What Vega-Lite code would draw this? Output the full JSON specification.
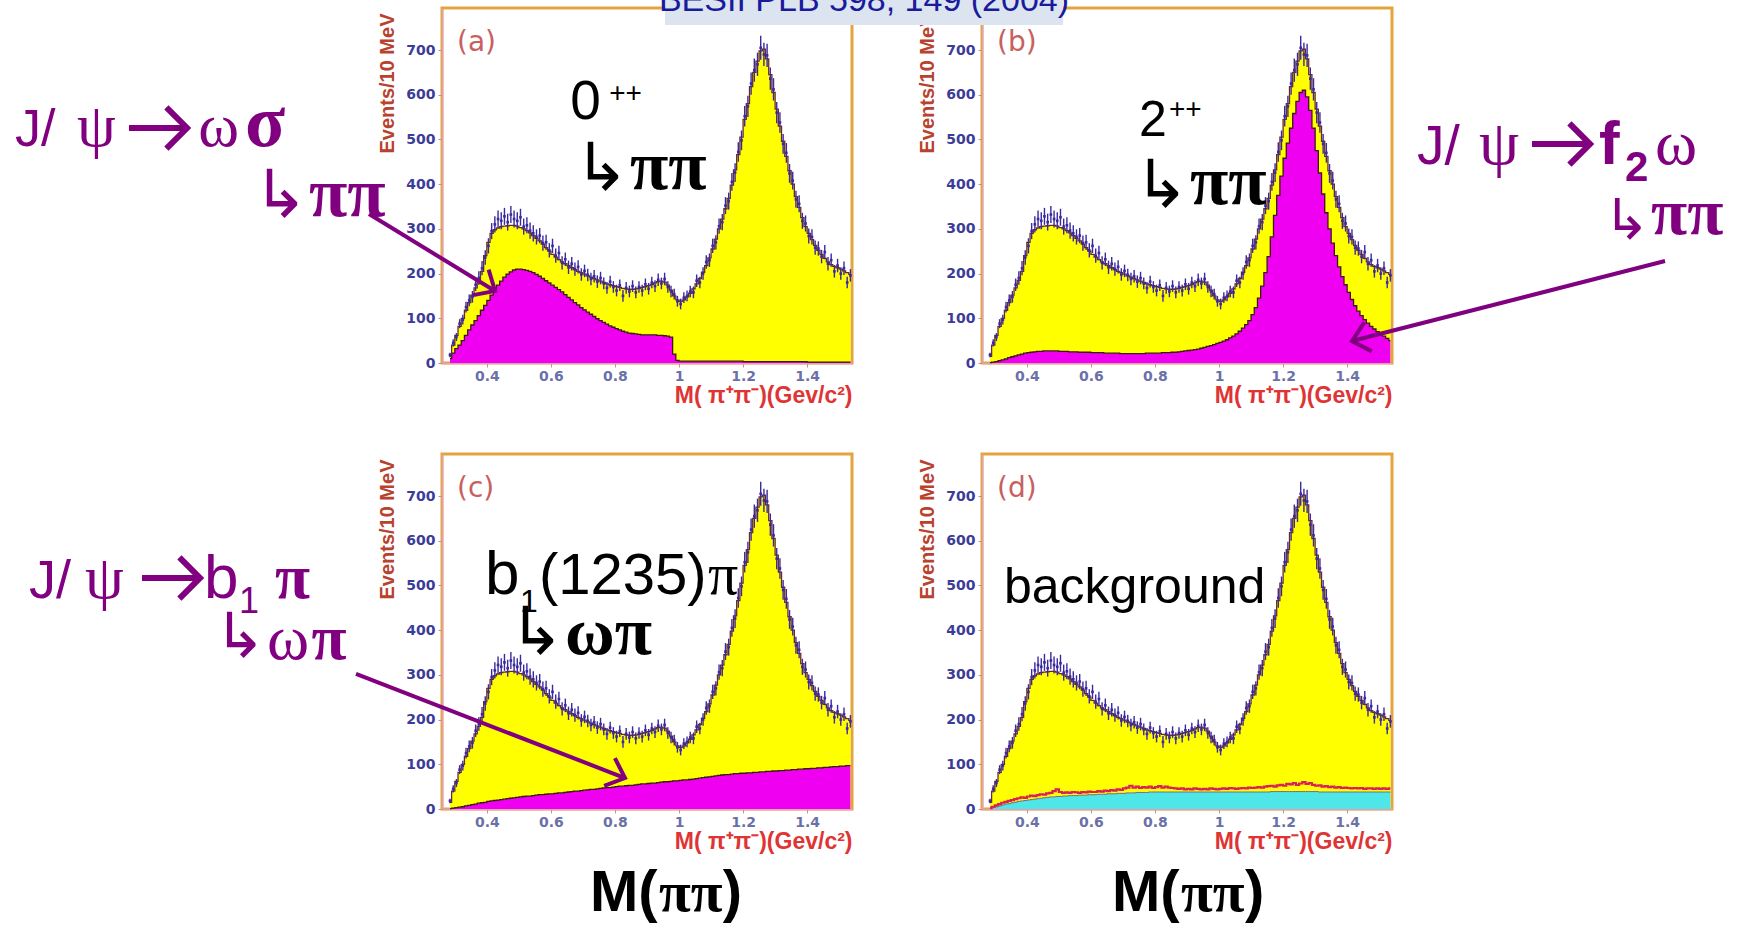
{
"$schema":"https://vega.github.io/schema/vega-lite/v6.json",
"background":"white",
"autosize":{"type":"pad"},
"padding":{"left":13,"top":-41,"right":0,"bottom":0},
"columns":2,
"spacing":{"row":91,"column":130},
"bounds":"flush",
"config":{
 "view":{"stroke":"#e3a43c","strokeWidth":3},
 "text":{"baseline":"alphabetic","align":"left"},
 "axis":{"grid":false,"domainColor":"#e2a0b4","domainWidth":1.5,"tickColor":"#d08898","tickSize":4,"labelFont":"DejaVu Sans","labelFontWeight":"bold","labelFontSize":14,"titleFont":"Liberation Sans","titleFontWeight":"bold"},
 "axisX":{"labelColor":"#6a70a8","labelPadding":2,"titleColor":"#e03434","titleFontSize":23,"titleX":410,"titleY":39,"titleAlign":"right","titleBaseline":"alphabetic"},
 "axisY":{"labelColor":"#3c3c98","labelPadding":3,"titleColor":"#b8422e","titleFontSize":20,"titleAngle":-90,"titleX":-55,"titleY":5,"titleAlign":"right","titleBaseline":"middle"}
},
"datasets":{"main":[
{"m":0.285,"f":15,"n":18,"lo":13,"hi":23,"a":10,"b":1,"c":1,"d":1,"g":2},
{"m":0.295,"f":40,"n":45,"lo":37,"hi":53,"a":22,"b":2,"c":2,"d":3,"g":5},
{"m":0.305,"f":62,"n":58,"lo":49,"hi":67,"a":32,"b":3,"c":3,"d":5,"g":8},
{"m":0.315,"f":82,"n":88,"lo":78,"hi":98,"a":40,"b":5,"c":4,"d":7,"g":11},
{"m":0.325,"f":100,"n":97,"lo":86,"hi":108,"a":50,"b":7,"c":5,"d":9,"g":14},
{"m":0.335,"f":118,"n":125,"lo":113,"hi":137,"a":62,"b":9,"c":7,"d":11,"g":16},
{"m":0.345,"f":135,"n":140,"lo":127,"hi":153,"a":74,"b":12,"c":8,"d":12,"g":18},
{"m":0.355,"f":152,"n":148,"lo":135,"hi":161,"a":85,"b":14,"c":10,"d":14,"g":20},
{"m":0.365,"f":168,"n":175,"lo":161,"hi":189,"a":95,"b":16,"c":11,"d":15,"g":22},
{"m":0.375,"f":185,"n":190,"lo":175,"hi":205,"a":106,"b":18,"c":13,"d":17,"g":24},
{"m":0.385,"f":205,"n":212,"lo":196,"hi":228,"a":118,"b":20,"c":14,"d":18,"g":26},
{"m":0.395,"f":240,"n":236,"lo":220,"hi":252,"a":129,"b":22,"c":15,"d":19,"g":25},
{"m":0.405,"f":270,"n":262,"lo":245,"hi":279,"a":140,"b":23,"c":17,"d":20,"g":28},
{"m":0.415,"f":290,"n":295,"lo":277,"hi":313,"a":152,"b":24,"c":18,"d":21,"g":30},
{"m":0.425,"f":298,"n":310,"lo":292,"hi":328,"a":163,"b":25,"c":19,"d":22,"g":29},
{"m":0.435,"f":302,"n":322,"lo":303,"hi":341,"a":174,"b":26,"c":20,"d":23,"g":31},
{"m":0.445,"f":305,"n":318,"lo":299,"hi":337,"a":183,"b":26,"c":21,"d":24,"g":33},
{"m":0.455,"f":306,"n":328,"lo":309,"hi":347,"a":192,"b":27,"c":22,"d":25,"g":32},
{"m":0.465,"f":307,"n":315,"lo":296,"hi":334,"a":199,"b":27,"c":23,"d":26,"g":35},
{"m":0.475,"f":308,"n":332,"lo":313,"hi":351,"a":204,"b":27,"c":24,"d":27,"g":36},
{"m":0.485,"f":308,"n":322,"lo":303,"hi":341,"a":208,"b":27,"c":25,"d":27,"g":40},
{"m":0.495,"f":306,"n":318,"lo":299,"hi":337,"a":210,"b":27,"c":26,"d":28,"g":44},
{"m":0.505,"f":303,"n":326,"lo":307,"hi":345,"a":210,"b":26,"c":27,"d":28,"g":38},
{"m":0.515,"f":300,"n":305,"lo":287,"hi":323,"a":209,"b":26,"c":28,"d":29,"g":36},
{"m":0.525,"f":296,"n":308,"lo":290,"hi":326,"a":207,"b":26,"c":29,"d":29,"g":37},
{"m":0.535,"f":291,"n":296,"lo":278,"hi":314,"a":205,"b":25,"c":29,"d":30,"g":36},
{"m":0.545,"f":285,"n":290,"lo":272,"hi":308,"a":202,"b":25,"c":30,"d":30,"g":38},
{"m":0.555,"f":279,"n":282,"lo":265,"hi":299,"a":198,"b":25,"c":31,"d":30,"g":37},
{"m":0.565,"f":273,"n":285,"lo":268,"hi":302,"a":194,"b":24,"c":32,"d":31,"g":36},
{"m":0.575,"f":266,"n":268,"lo":251,"hi":285,"a":189,"b":24,"c":32,"d":31,"g":38},
{"m":0.585,"f":258,"n":270,"lo":253,"hi":287,"a":184,"b":24,"c":33,"d":31,"g":37},
{"m":0.595,"f":250,"n":252,"lo":236,"hi":268,"a":179,"b":24,"c":34,"d":32,"g":39},
{"m":0.605,"f":243,"n":262,"lo":246,"hi":278,"a":174,"b":23,"c":34,"d":32,"g":38},
{"m":0.615,"f":237,"n":240,"lo":224,"hi":256,"a":169,"b":23,"c":35,"d":32,"g":38},
{"m":0.625,"f":231,"n":246,"lo":230,"hi":262,"a":164,"b":23,"c":36,"d":33,"g":40},
{"m":0.635,"f":226,"n":224,"lo":209,"hi":239,"a":159,"b":23,"c":36,"d":33,"g":39},
{"m":0.645,"f":222,"n":232,"lo":217,"hi":247,"a":153,"b":22,"c":37,"d":33,"g":41},
{"m":0.655,"f":218,"n":214,"lo":199,"hi":229,"a":147,"b":22,"c":38,"d":34,"g":40},
{"m":0.665,"f":213,"n":222,"lo":207,"hi":237,"a":141,"b":22,"c":39,"d":34,"g":42},
{"m":0.675,"f":209,"n":210,"lo":195,"hi":225,"a":135,"b":22,"c":40,"d":34,"g":41},
{"m":0.685,"f":205,"n":215,"lo":200,"hi":230,"a":130,"b":22,"c":40,"d":35,"g":44},
{"m":0.695,"f":202,"n":198,"lo":184,"hi":212,"a":124,"b":21,"c":41,"d":35,"g":43},
{"m":0.705,"f":199,"n":206,"lo":192,"hi":220,"a":119,"b":21,"c":42,"d":35,"g":46},
{"m":0.715,"f":195,"n":197,"lo":183,"hi":211,"a":114,"b":21,"c":43,"d":36,"g":48},
{"m":0.725,"f":192,"n":188,"lo":174,"hi":202,"a":109,"b":21,"c":44,"d":36,"g":52},
{"m":0.735,"f":189,"n":194,"lo":180,"hi":208,"a":104,"b":21,"c":44,"d":36,"g":48},
{"m":0.745,"f":186,"n":182,"lo":168,"hi":196,"a":99,"b":21,"c":45,"d":37,"g":50},
{"m":0.755,"f":183,"n":190,"lo":176,"hi":204,"a":95,"b":21,"c":46,"d":37,"g":47},
{"m":0.765,"f":180,"n":178,"lo":165,"hi":191,"a":91,"b":21,"c":47,"d":37,"g":49},
{"m":0.775,"f":177,"n":168,"lo":155,"hi":181,"a":87,"b":22,"c":48,"d":37,"g":48},
{"m":0.785,"f":175,"n":182,"lo":169,"hi":195,"a":83,"b":22,"c":48,"d":38,"g":50},
{"m":0.795,"f":173,"n":170,"lo":157,"hi":183,"a":80,"b":22,"c":49,"d":38,"g":47},
{"m":0.805,"f":171,"n":162,"lo":149,"hi":175,"a":77,"b":22,"c":50,"d":38,"g":49},
{"m":0.815,"f":169,"n":174,"lo":161,"hi":187,"a":74,"b":22,"c":51,"d":38,"g":51},
{"m":0.825,"f":167,"n":150,"lo":137,"hi":163,"a":71,"b":23,"c":51,"d":38,"g":48},
{"m":0.835,"f":166,"n":168,"lo":155,"hi":181,"a":69,"b":23,"c":52,"d":38,"g":50},
{"m":0.845,"f":165,"n":160,"lo":147,"hi":173,"a":67,"b":23,"c":53,"d":38,"g":48},
{"m":0.855,"f":165,"n":172,"lo":159,"hi":185,"a":66,"b":24,"c":53,"d":38,"g":47},
{"m":0.865,"f":166,"n":158,"lo":145,"hi":171,"a":65,"b":24,"c":54,"d":38,"g":46},
{"m":0.875,"f":167,"n":170,"lo":157,"hi":183,"a":64,"b":25,"c":55,"d":38,"g":45},
{"m":0.885,"f":169,"n":162,"lo":149,"hi":175,"a":63,"b":26,"c":56,"d":38,"g":46},
{"m":0.895,"f":171,"n":176,"lo":163,"hi":189,"a":63,"b":27,"c":56,"d":38,"g":44},
{"m":0.905,"f":173,"n":166,"lo":153,"hi":179,"a":63,"b":28,"c":57,"d":38,"g":45},
{"m":0.915,"f":176,"n":180,"lo":167,"hi":193,"a":63,"b":29,"c":58,"d":38,"g":44},
{"m":0.925,"f":179,"n":172,"lo":159,"hi":185,"a":63,"b":30,"c":58,"d":38,"g":46},
{"m":0.935,"f":182,"n":186,"lo":172,"hi":200,"a":62,"b":31,"c":59,"d":38,"g":45},
{"m":0.945,"f":183,"n":178,"lo":165,"hi":191,"a":62,"b":33,"c":60,"d":38,"g":44},
{"m":0.955,"f":181,"n":188,"lo":174,"hi":202,"a":61,"b":35,"c":61,"d":38,"g":45},
{"m":0.965,"f":174,"n":170,"lo":157,"hi":183,"a":60,"b":37,"c":61,"d":38,"g":44},
{"m":0.975,"f":163,"n":160,"lo":147,"hi":173,"a":58,"b":39,"c":62,"d":38,"g":46},
{"m":0.985,"f":150,"n":154,"lo":142,"hi":166,"a":20,"b":41,"c":63,"d":38,"g":45},
{"m":0.995,"f":141,"n":138,"lo":126,"hi":150,"a":6,"b":44,"c":63,"d":38,"g":44},
{"m":1.005,"f":138,"n":132,"lo":120,"hi":144,"a":4,"b":46,"c":64,"d":38,"g":45},
{"m":1.015,"f":141,"n":146,"lo":134,"hi":158,"a":4,"b":49,"c":65,"d":38,"g":46},
{"m":1.025,"f":148,"n":150,"lo":138,"hi":162,"a":4,"b":52,"c":65,"d":38,"g":45},
{"m":1.035,"f":156,"n":160,"lo":147,"hi":173,"a":4,"b":56,"c":66,"d":38,"g":47},
{"m":1.045,"f":166,"n":158,"lo":145,"hi":171,"a":4,"b":60,"c":67,"d":38,"g":46},
{"m":1.055,"f":177,"n":184,"lo":170,"hi":198,"a":4,"b":65,"c":68,"d":38,"g":45},
{"m":1.065,"f":189,"n":180,"lo":167,"hi":193,"a":4,"b":71,"c":69,"d":38,"g":46},
{"m":1.075,"f":203,"n":200,"lo":186,"hi":214,"a":4,"b":78,"c":70,"d":38,"g":47},
{"m":1.085,"f":218,"n":226,"lo":211,"hi":241,"a":4,"b":86,"c":71,"d":38,"g":46},
{"m":1.095,"f":235,"n":230,"lo":215,"hi":245,"a":4,"b":95,"c":72,"d":38,"g":48},
{"m":1.105,"f":255,"n":262,"lo":246,"hi":278,"a":4,"b":108,"c":73,"d":38,"g":47},
{"m":1.115,"f":277,"n":270,"lo":254,"hi":286,"a":4,"b":124,"c":74,"d":38,"g":48},
{"m":1.125,"f":300,"n":306,"lo":289,"hi":323,"a":4,"b":145,"c":75,"d":38,"g":49},
{"m":1.135,"f":322,"n":315,"lo":297,"hi":333,"a":4,"b":172,"c":76,"d":38,"g":48},
{"m":1.145,"f":345,"n":352,"lo":333,"hi":371,"a":4,"b":202,"c":77,"d":38,"g":50},
{"m":1.155,"f":368,"n":362,"lo":343,"hi":381,"a":4,"b":238,"c":77,"d":38,"g":51},
{"m":1.165,"f":398,"n":405,"lo":385,"hi":425,"a":4,"b":282,"c":78,"d":39,"g":52},
{"m":1.175,"f":432,"n":426,"lo":405,"hi":447,"a":4,"b":330,"c":79,"d":39,"g":50},
{"m":1.185,"f":466,"n":472,"lo":450,"hi":494,"a":4,"b":375,"c":79,"d":39,"g":53},
{"m":1.195,"f":505,"n":498,"lo":476,"hi":520,"a":4,"b":418,"c":80,"d":39,"g":54},
{"m":1.205,"f":545,"n":552,"lo":529,"hi":575,"a":3,"b":458,"c":80,"d":39,"g":52},
{"m":1.215,"f":580,"n":574,"lo":550,"hi":598,"a":3,"b":492,"c":81,"d":39,"g":56},
{"m":1.225,"f":618,"n":625,"lo":600,"hi":650,"a":3,"b":525,"c":81,"d":39,"g":55},
{"m":1.235,"f":650,"n":655,"lo":629,"hi":681,"a":3,"b":558,"c":82,"d":39,"g":58},
{"m":1.245,"f":675,"n":668,"lo":642,"hi":694,"a":3,"b":585,"c":82,"d":39,"g":54},
{"m":1.255,"f":698,"n":705,"lo":678,"hi":732,"a":3,"b":605,"c":83,"d":39,"g":57},
{"m":1.265,"f":702,"n":690,"lo":664,"hi":716,"a":3,"b":610,"c":83,"d":39,"g":60},
{"m":1.275,"f":680,"n":688,"lo":662,"hi":714,"a":3,"b":595,"c":84,"d":39,"g":56},
{"m":1.285,"f":645,"n":636,"lo":611,"hi":661,"a":3,"b":565,"c":84,"d":39,"g":58},
{"m":1.295,"f":605,"n":612,"lo":587,"hi":637,"a":3,"b":525,"c":85,"d":39,"g":54},
{"m":1.305,"f":568,"n":560,"lo":536,"hi":584,"a":3,"b":475,"c":85,"d":39,"g":52},
{"m":1.315,"f":530,"n":538,"lo":515,"hi":561,"a":3,"b":425,"c":86,"d":38,"g":53},
{"m":1.325,"f":496,"n":490,"lo":468,"hi":512,"a":3,"b":378,"c":86,"d":38,"g":50},
{"m":1.335,"f":462,"n":470,"lo":448,"hi":492,"a":3,"b":336,"c":87,"d":38,"g":51},
{"m":1.345,"f":430,"n":424,"lo":403,"hi":445,"a":3,"b":300,"c":87,"d":38,"g":49},
{"m":1.355,"f":400,"n":408,"lo":388,"hi":428,"a":3,"b":268,"c":88,"d":38,"g":50},
{"m":1.365,"f":372,"n":366,"lo":347,"hi":385,"a":3,"b":240,"c":88,"d":38,"g":48},
{"m":1.375,"f":348,"n":356,"lo":337,"hi":375,"a":3,"b":215,"c":89,"d":38,"g":49},
{"m":1.385,"f":325,"n":318,"lo":300,"hi":336,"a":3,"b":193,"c":89,"d":38,"g":47},
{"m":1.395,"f":305,"n":312,"lo":294,"hi":330,"a":3,"b":175,"c":90,"d":38,"g":48},
{"m":1.405,"f":290,"n":284,"lo":267,"hi":301,"a":2,"b":158,"c":90,"d":38,"g":47},
{"m":1.415,"f":276,"n":282,"lo":265,"hi":299,"a":2,"b":142,"c":91,"d":38,"g":46},
{"m":1.425,"f":263,"n":258,"lo":242,"hi":274,"a":2,"b":128,"c":91,"d":38,"g":47},
{"m":1.435,"f":252,"n":256,"lo":240,"hi":272,"a":2,"b":116,"c":92,"d":38,"g":46},
{"m":1.445,"f":243,"n":238,"lo":223,"hi":253,"a":2,"b":106,"c":92,"d":38,"g":47},
{"m":1.455,"f":234,"n":248,"lo":232,"hi":264,"a":2,"b":97,"c":93,"d":38,"g":45},
{"m":1.465,"f":226,"n":222,"lo":207,"hi":237,"a":2,"b":89,"c":93,"d":38,"g":46},
{"m":1.475,"f":220,"n":230,"lo":215,"hi":245,"a":2,"b":82,"c":94,"d":38,"g":46},
{"m":1.485,"f":216,"n":205,"lo":191,"hi":219,"a":2,"b":76,"c":95,"d":38,"g":45},
{"m":1.495,"f":213,"n":218,"lo":203,"hi":233,"a":2,"b":70,"c":95,"d":38,"g":46},
{"m":1.505,"f":210,"n":200,"lo":186,"hi":214,"a":2,"b":65,"c":96,"d":38,"g":45},
{"m":1.515,"f":206,"n":212,"lo":197,"hi":227,"a":2,"b":60,"c":96,"d":38,"g":46},
{"m":1.525,"f":202,"n":180,"lo":167,"hi":193,"a":2,"b":55,"c":97,"d":38,"g":45},
{"m":1.535,"f":198,"n":196,"lo":182,"hi":210,"a":2,"b":50,"c":97,"d":38,"g":46}
]},
"concat":[
{
 "width":410,"height":355,
 "data":{"name":"main"},
 "encoding":{"x":{"field":"m","type":"quantitative","title":"M( π⁺π⁻)(Gev/c²)","scale":{"domain":[0.26,1.54],"nice":false,"zero":false},"axis":{"values":[0.4,0.6,0.8,1,1.2,1.4],"format":"~g"}}},
 "layer":[
  {"mark":{"type":"area","interpolate":"step","color":"#ffff00"},"encoding":{"y":{"field":"f","type":"quantitative","title":"Events/10 MeV","scale":{"domain":[0,794],"nice":false},"axis":{"values":[0,100,200,300,400,500,600,700]}}}},
  {"mark":{"type":"area","interpolate":"step","color":"#f000f0"},"encoding":{"y":{"field":"a","type":"quantitative","title":"Events/10 MeV"}}},
  {"mark":{"type":"line","interpolate":"step","color":"#3a1a1a","strokeWidth":1.3},"encoding":{"y":{"field":"a","type":"quantitative","title":"Events/10 MeV"}}},
  {"mark":{"type":"line","interpolate":"step","color":"#6a2a2a","strokeWidth":1.3},"encoding":{"y":{"field":"f","type":"quantitative","title":"Events/10 MeV"}}},
  {"mark":{"type":"rule","color":"#3a2aa0","strokeWidth":1.4},"encoding":{"y":{"field":"lo","type":"quantitative","title":"Events/10 MeV"},"y2":{"field":"hi"}}},
  {"mark":{"type":"point","shape":"square","filled":true,"size":7,"color":"#3a2aa0","opacity":1},"encoding":{"y":{"field":"n","type":"quantitative","title":"Events/10 MeV"}}},
  {"transform":[{"filter":"datum.m < 0.29"}],"mark":{"type":"text","text":"(a)","font":"DejaVu Sans","fontSize":28,"color":"#c86060"},"encoding":{"x":{"datum":0.3068},"y":{"datum":697.8}}},
  {"transform":[{"filter":"datum.m < 0.29"}],"mark":{"type":"text","text":"0","font":"Liberation Sans","fontSize":55,"color":"black"},"encoding":{"x":{"datum":0.66},"y":{"datum":545.7}}},
  {"transform":[{"filter":"datum.m < 0.29"}],"mark":{"type":"text","text":"++","font":"Liberation Sans","fontSize":28,"color":"black"},"encoding":{"x":{"datum":0.7818},"y":{"datum":584}}},
  {"transform":[{"filter":"datum.m < 0.29"}],"mark":{"type":"text","text":"↳","font":"DejaVu Sans","fontSize":66,"color":"black"},"encoding":{"x":{"datum":0.6721},"y":{"datum":386.9}}},
  {"transform":[{"filter":"datum.m < 0.29"}],"mark":{"type":"text","text":"ππ","font":"Liberation Serif","fontWeight":"bold","fontSize":70,"color":"black"},"encoding":{"x":{"datum":0.8468},"y":{"datum":389.2}}},
  {"transform":[{"filter":"datum.m < 0.29"}],"mark":{"type":"text","text":"J/","font":"Liberation Sans","fontSize":52,"color":"#800080"},"encoding":{"x":{"datum":-1.0731},"y":{"datum":485.3}}},
  {"transform":[{"filter":"datum.m < 0.29"}],"mark":{"type":"text","text":"ψ","font":"Liberation Serif","fontSize":62,"color":"#800080"},"encoding":{"x":{"datum":-0.8796},"y":{"datum":485.3}}},
  {"transform":[{"filter":"datum.m < 0.29"}],"mark":{"type":"rule","color":"#800080","strokeWidth":6},"encoding":{"x":{"datum":-0.7172},"x2":{"datum":-0.5361},"y":{"datum":525.6},"y2":{"datum":525.6}}},
  {"transform":[{"filter":"datum.m < 0.29"}],"mark":{"type":"point","shape":"M-1,-1L0,0L-1,1","size":1700,"filled":false,"color":"#800080","strokeWidth":6,"opacity":1},"encoding":{"x":{"datum":-0.5361},"y":{"datum":525.6}}},
  {"transform":[{"filter":"datum.m < 0.29"}],"mark":{"type":"text","text":"ω","font":"Liberation Serif","fontSize":62,"color":"#800080"},"encoding":{"x":{"datum":-0.5008},"y":{"datum":485.3}}},
  {"transform":[{"filter":"datum.m < 0.29"}],"mark":{"type":"text","text":"σ","font":"Liberation Serif","fontWeight":"bold","fontSize":74,"color":"#800080"},"encoding":{"x":{"datum":-0.3551},"y":{"datum":485.3}}},
  {"transform":[{"filter":"datum.m < 0.29"}],"mark":{"type":"text","text":"↳","font":"DejaVu Sans","fontSize":66,"color":"#800080"},"encoding":{"x":{"datum":-0.3301},"y":{"datum":326.5}}},
  {"transform":[{"filter":"datum.m < 0.29"}],"mark":{"type":"text","text":"ππ","font":"Liberation Serif","fontWeight":"bold","fontSize":70,"color":"#800080"},"encoding":{"x":{"datum":-0.1554},"y":{"datum":328.8}}},
  {"transform":[{"filter":"datum.m < 0.29"}],"mark":{"type":"rule","color":"#800080","strokeWidth":4},"encoding":{"x":{"datum":0.0321},"x2":{"datum":0.4255},"y":{"datum":333.3},"y2":{"datum":161}}},
  {"transform":[{"filter":"datum.m < 0.29"}],"mark":{"type":"point","shape":"M-1,-0.9L0,0L-1,0.9","size":1100,"filled":false,"color":"#800080","strokeWidth":4,"opacity":1,"angle":31.4},"encoding":{"x":{"datum":0.4255},"y":{"datum":161}}}
 ]
},
{
 "width":410,"height":355,
 "data":{"name":"main"},
 "encoding":{"x":{"field":"m","type":"quantitative","title":"M( π⁺π⁻)(Gev/c²)","scale":{"domain":[0.26,1.54],"nice":false,"zero":false},"axis":{"values":[0.4,0.6,0.8,1,1.2,1.4],"format":"~g"}}},
 "layer":[
  {"mark":{"type":"area","interpolate":"step","color":"#ffff00"},"encoding":{"y":{"field":"f","type":"quantitative","title":"Events/10 MeV","scale":{"domain":[0,794],"nice":false},"axis":{"values":[0,100,200,300,400,500,600,700]}}}},
  {"mark":{"type":"area","interpolate":"step","color":"#f000f0"},"encoding":{"y":{"field":"b","type":"quantitative","title":"Events/10 MeV"}}},
  {"mark":{"type":"line","interpolate":"step","color":"#3a1a1a","strokeWidth":1.3},"encoding":{"y":{"field":"b","type":"quantitative","title":"Events/10 MeV"}}},
  {"mark":{"type":"line","interpolate":"step","color":"#6a2a2a","strokeWidth":1.3},"encoding":{"y":{"field":"f","type":"quantitative","title":"Events/10 MeV"}}},
  {"mark":{"type":"rule","color":"#3a2aa0","strokeWidth":1.4},"encoding":{"y":{"field":"lo","type":"quantitative","title":"Events/10 MeV"},"y2":{"field":"hi"}}},
  {"mark":{"type":"point","shape":"square","filled":true,"size":7,"color":"#3a2aa0","opacity":1},"encoding":{"y":{"field":"n","type":"quantitative","title":"Events/10 MeV"}}},
  {"transform":[{"filter":"datum.m < 0.29"}],"mark":{"type":"text","text":"(b)","font":"DejaVu Sans","fontSize":28,"color":"#c86060"},"encoding":{"x":{"datum":0.3068},"y":{"datum":697.8}}},
  {"transform":[{"filter":"datum.m < 0.29"}],"mark":{"type":"text","text":"2","font":"Liberation Sans","fontSize":50,"color":"black"},"encoding":{"x":{"datum":0.75},"y":{"datum":508}}},
  {"transform":[{"filter":"datum.m < 0.29"}],"mark":{"type":"text","text":"++","font":"Liberation Sans","fontSize":28,"color":"black"},"encoding":{"x":{"datum":0.8437},"y":{"datum":548}}},
  {"transform":[{"filter":"datum.m < 0.29"}],"mark":{"type":"text","text":"↳","font":"DejaVu Sans","fontSize":66,"color":"black"},"encoding":{"x":{"datum":0.7346},"y":{"datum":348.9}}},
  {"transform":[{"filter":"datum.m < 0.29"}],"mark":{"type":"text","text":"ππ","font":"Liberation Serif","fontWeight":"bold","fontSize":70,"color":"black"},"encoding":{"x":{"datum":0.9093},"y":{"datum":355.6}}},
  {"transform":[{"filter":"datum.m < 0.29"}],"mark":{"type":"rect","color":"#dce4f0"},"encoding":{"x":{"datum":-0.7297},"x2":{"datum":0.5129},"y":{"datum":756},"y2":{"datum":900}}},
  {"transform":[{"filter":"datum.m < 0.29"}],"mark":{"type":"text","text":"BESII PLB 598, 149 (2004)","font":"Liberation Sans","fontSize":34,"color":"#1a1a9c","align":"center"},"encoding":{"x":{"datum":-0.1084},"y":{"datum":787}}},
  {"transform":[{"filter":"datum.m < 0.29"}],"mark":{"type":"text","text":"J/","font":"Liberation Sans","fontSize":55,"color":"#800080"},"encoding":{"x":{"datum":1.6181},"y":{"datum":445.1}}},
  {"transform":[{"filter":"datum.m < 0.29"}],"mark":{"type":"text","text":"ψ","font":"Liberation Serif","fontSize":64,"color":"#800080"},"encoding":{"x":{"datum":1.8117},"y":{"datum":445.1}}},
  {"transform":[{"filter":"datum.m < 0.29"}],"mark":{"type":"rule","color":"#800080","strokeWidth":6},"encoding":{"x":{"datum":1.9771},"x2":{"datum":2.1582},"y":{"datum":489.8},"y2":{"datum":489.8}}},
  {"transform":[{"filter":"datum.m < 0.29"}],"mark":{"type":"point","shape":"M-1,-1L0,0L-1,1","size":1700,"filled":false,"color":"#800080","strokeWidth":6,"opacity":1},"encoding":{"x":{"datum":2.1582},"y":{"datum":489.8}}},
  {"transform":[{"filter":"datum.m < 0.29"}],"mark":{"type":"text","text":"f","font":"Liberation Sans","fontWeight":"bold","fontSize":62,"color":"#800080"},"encoding":{"x":{"datum":2.1863},"y":{"datum":445.1}}},
  {"transform":[{"filter":"datum.m < 0.29"}],"mark":{"type":"text","text":"2","font":"Liberation Sans","fontWeight":"bold","fontSize":42,"color":"#800080"},"encoding":{"x":{"datum":2.2675},"y":{"datum":407}}},
  {"transform":[{"filter":"datum.m < 0.29"}],"mark":{"type":"text","text":"ω","font":"Liberation Serif","fontSize":64,"color":"#800080"},"encoding":{"x":{"datum":2.3612},"y":{"datum":445.1}}},
  {"transform":[{"filter":"datum.m < 0.29"}],"mark":{"type":"text","text":"↳","font":"DejaVu Sans","fontSize":56,"color":"#800080"},"encoding":{"x":{"datum":2.1988},"y":{"datum":277.3}}},
  {"transform":[{"filter":"datum.m < 0.29"}],"mark":{"type":"text","text":"ππ","font":"Liberation Serif","fontWeight":"bold","fontSize":66,"color":"#800080"},"encoding":{"x":{"datum":2.3485},"y":{"datum":288.5}}},
  {"transform":[{"filter":"datum.m < 0.29"}],"mark":{"type":"rule","color":"#800080","strokeWidth":4},"encoding":{"x":{"datum":2.3924},"x2":{"datum":1.4152},"y":{"datum":228},"y2":{"datum":49.2}}},
  {"transform":[{"filter":"datum.m < 0.29"}],"mark":{"type":"point","shape":"M-1,-0.9L0,0L-1,0.9","size":1100,"filled":false,"color":"#800080","strokeWidth":4,"opacity":1,"angle":165.7},"encoding":{"x":{"datum":1.4152},"y":{"datum":49.2}}}
 ]
},
{
 "width":410,"height":355,
 "data":{"name":"main"},
 "encoding":{"x":{"field":"m","type":"quantitative","title":"M( π⁺π⁻)(Gev/c²)","scale":{"domain":[0.26,1.54],"nice":false,"zero":false},"axis":{"values":[0.4,0.6,0.8,1,1.2,1.4],"format":"~g"}}},
 "layer":[
  {"mark":{"type":"area","interpolate":"step","color":"#ffff00"},"encoding":{"y":{"field":"f","type":"quantitative","title":"Events/10 MeV","scale":{"domain":[0,794],"nice":false},"axis":{"values":[0,100,200,300,400,500,600,700]}}}},
  {"mark":{"type":"area","interpolate":"step","color":"#f000f0"},"encoding":{"y":{"field":"c","type":"quantitative","title":"Events/10 MeV"}}},
  {"mark":{"type":"line","interpolate":"step","color":"#3a1a1a","strokeWidth":1.3},"encoding":{"y":{"field":"c","type":"quantitative","title":"Events/10 MeV"}}},
  {"mark":{"type":"line","interpolate":"step","color":"#6a2a2a","strokeWidth":1.3},"encoding":{"y":{"field":"f","type":"quantitative","title":"Events/10 MeV"}}},
  {"mark":{"type":"rule","color":"#3a2aa0","strokeWidth":1.4},"encoding":{"y":{"field":"lo","type":"quantitative","title":"Events/10 MeV"},"y2":{"field":"hi"}}},
  {"mark":{"type":"point","shape":"square","filled":true,"size":7,"color":"#3a2aa0","opacity":1},"encoding":{"y":{"field":"n","type":"quantitative","title":"Events/10 MeV"}}},
  {"transform":[{"filter":"datum.m < 0.29"}],"mark":{"type":"text","text":"(c)","font":"DejaVu Sans","fontSize":28,"color":"#c86060"},"encoding":{"x":{"datum":0.3068},"y":{"datum":697.8}}},
  {"transform":[{"filter":"datum.m < 0.29"}],"mark":{"type":"text","text":"b","font":"Liberation Sans","fontSize":62,"color":"black"},"encoding":{"x":{"datum":0.3942},"y":{"datum":480.9}}},
  {"transform":[{"filter":"datum.m < 0.29"}],"mark":{"type":"text","text":"1","font":"Liberation Sans","fontSize":32,"color":"black"},"encoding":{"x":{"datum":0.5035},"y":{"datum":440}}},
  {"transform":[{"filter":"datum.m < 0.29"}],"mark":{"type":"text","text":"(1235)","font":"Liberation Sans","fontSize":58,"color":"black"},"encoding":{"x":{"datum":0.5628},"y":{"datum":480.9}}},
  {"transform":[{"filter":"datum.m < 0.29"}],"mark":{"type":"text","text":"π","font":"Liberation Serif","fontSize":60,"color":"black"},"encoding":{"x":{"datum":1.0903},"y":{"datum":480.9}}},
  {"transform":[{"filter":"datum.m < 0.29"}],"mark":{"type":"text","text":"↳","font":"DejaVu Sans","fontSize":66,"color":"black"},"encoding":{"x":{"datum":0.4692},"y":{"datum":346.7}}},
  {"transform":[{"filter":"datum.m < 0.29"}],"mark":{"type":"text","text":"ωπ","font":"Liberation Serif","fontWeight":"bold","fontSize":68,"color":"black"},"encoding":{"x":{"datum":0.6439},"y":{"datum":346.7}}},
  {"transform":[{"filter":"datum.m < 0.29"}],"mark":{"type":"text","text":"J/","font":"Liberation Sans","fontSize":54,"color":"#800080"},"encoding":{"x":{"datum":-1.0294},"y":{"datum":471.9}}},
  {"transform":[{"filter":"datum.m < 0.29"}],"mark":{"type":"text","text":"ψ","font":"Liberation Serif","fontSize":62,"color":"#800080"},"encoding":{"x":{"datum":-0.8546},"y":{"datum":471.9}}},
  {"transform":[{"filter":"datum.m < 0.29"}],"mark":{"type":"rule","color":"#800080","strokeWidth":6},"encoding":{"x":{"datum":-0.6766},"x2":{"datum":-0.4955},"y":{"datum":516.7},"y2":{"datum":516.7}}},
  {"transform":[{"filter":"datum.m < 0.29"}],"mark":{"type":"point","shape":"M-1,-1L0,0L-1,1","size":1700,"filled":false,"color":"#800080","strokeWidth":6,"opacity":1},"encoding":{"x":{"datum":-0.4955},"y":{"datum":516.7}}},
  {"transform":[{"filter":"datum.m < 0.29"}],"mark":{"type":"text","text":"b","font":"Liberation Sans","fontSize":62,"color":"#800080"},"encoding":{"x":{"datum":-0.4831},"y":{"datum":471.9}}},
  {"transform":[{"filter":"datum.m < 0.29"}],"mark":{"type":"text","text":"1","font":"Liberation Sans","fontSize":36,"color":"#800080"},"encoding":{"x":{"datum":-0.3737},"y":{"datum":438.4}}},
  {"transform":[{"filter":"datum.m < 0.29"}],"mark":{"type":"text","text":"π","font":"Liberation Serif","fontWeight":"bold","fontSize":64,"color":"#800080"},"encoding":{"x":{"datum":-0.2614},"y":{"datum":471.9}}},
  {"transform":[{"filter":"datum.m < 0.29"}],"mark":{"type":"text","text":"↳","font":"DejaVu Sans","fontSize":62,"color":"#800080"},"encoding":{"x":{"datum":-0.4518},"y":{"datum":340}}},
  {"transform":[{"filter":"datum.m < 0.29"}],"mark":{"type":"text","text":"ω","font":"Liberation Serif","fontSize":64,"color":"#800080"},"encoding":{"x":{"datum":-0.2865},"y":{"datum":335.5}}},
  {"transform":[{"filter":"datum.m < 0.29"}],"mark":{"type":"text","text":"π","font":"Liberation Serif","fontWeight":"bold","fontSize":64,"color":"#800080"},"encoding":{"x":{"datum":-0.1471},"y":{"datum":335.5}}},
  {"transform":[{"filter":"datum.m < 0.29"}],"mark":{"type":"rule","color":"#800080","strokeWidth":4},"encoding":{"x":{"datum":-0.0085},"x2":{"datum":0.8313},"y":{"datum":302},"y2":{"datum":69.3}}},
  {"transform":[{"filter":"datum.m < 0.29"}],"mark":{"type":"point","shape":"M-1,-0.9L0,0L-1,0.9","size":1100,"filled":false,"color":"#800080","strokeWidth":4,"opacity":1,"angle":21.1},"encoding":{"x":{"datum":0.8313},"y":{"datum":69.3}}},
  {"transform":[{"filter":"datum.m < 0.29"}],"mark":{"type":"text","text":"M(","font":"Liberation Sans","fontWeight":"bold","fontSize":58,"color":"black"},"encoding":{"x":{"datum":0.7221},"y":{"datum":-228.1}}},
  {"transform":[{"filter":"datum.m < 0.29"}],"mark":{"type":"text","text":"ππ","font":"Liberation Serif","fontWeight":"bold","fontSize":58,"color":"black"},"encoding":{"x":{"datum":0.9374},"y":{"datum":-228.1}}},
  {"transform":[{"filter":"datum.m < 0.29"}],"mark":{"type":"text","text":")","font":"Liberation Sans","fontWeight":"bold","fontSize":58,"color":"black"},"encoding":{"x":{"datum":1.1365},"y":{"datum":-228.1}}}
 ]
},
{
 "width":410,"height":355,
 "data":{"name":"main"},
 "encoding":{"x":{"field":"m","type":"quantitative","title":"M( π⁺π⁻)(Gev/c²)","scale":{"domain":[0.26,1.54],"nice":false,"zero":false},"axis":{"values":[0.4,0.6,0.8,1,1.2,1.4],"format":"~g"}}},
 "layer":[
  {"mark":{"type":"area","interpolate":"step","color":"#ffff00"},"encoding":{"y":{"field":"f","type":"quantitative","title":"Events/10 MeV","scale":{"domain":[0,794],"nice":false},"axis":{"values":[0,100,200,300,400,500,600,700]}}}},
  {"mark":{"type":"area","interpolate":"step","color":"#4ee6e6"},"encoding":{"y":{"field":"d","type":"quantitative","title":"Events/10 MeV"}}},
  {"mark":{"type":"line","interpolate":"step","color":"#7a6a8a","strokeWidth":1},"encoding":{"y":{"field":"d","type":"quantitative","title":"Events/10 MeV"}}},
  {"mark":{"type":"line","interpolate":"step","color":"#d8205a","strokeWidth":2.2},"encoding":{"y":{"field":"g","type":"quantitative","title":"Events/10 MeV"}}},
  {"mark":{"type":"line","interpolate":"step","color":"#6a2a2a","strokeWidth":1.3},"encoding":{"y":{"field":"f","type":"quantitative","title":"Events/10 MeV"}}},
  {"mark":{"type":"rule","color":"#3a2aa0","strokeWidth":1.4},"encoding":{"y":{"field":"lo","type":"quantitative","title":"Events/10 MeV"},"y2":{"field":"hi"}}},
  {"mark":{"type":"point","shape":"square","filled":true,"size":7,"color":"#3a2aa0","opacity":1},"encoding":{"y":{"field":"n","type":"quantitative","title":"Events/10 MeV"}}},
  {"transform":[{"filter":"datum.m < 0.29"}],"mark":{"type":"text","text":"(d)","font":"DejaVu Sans","fontSize":28,"color":"#c86060"},"encoding":{"x":{"datum":0.3068},"y":{"datum":697.8}}},
  {"transform":[{"filter":"datum.m < 0.29"}],"mark":{"type":"text","text":"background","font":"Liberation Sans","fontSize":50,"color":"black"},"encoding":{"x":{"datum":0.3287},"y":{"datum":460.7}}},
  {"transform":[{"filter":"datum.m < 0.29"}],"mark":{"type":"text","text":"M(","font":"Liberation Sans","fontWeight":"bold","fontSize":58,"color":"black"},"encoding":{"x":{"datum":0.6659},"y":{"datum":-228.1}}},
  {"transform":[{"filter":"datum.m < 0.29"}],"mark":{"type":"text","text":"ππ","font":"Liberation Serif","fontWeight":"bold","fontSize":58,"color":"black"},"encoding":{"x":{"datum":0.8812},"y":{"datum":-228.1}}},
  {"transform":[{"filter":"datum.m < 0.29"}],"mark":{"type":"text","text":")","font":"Liberation Sans","fontWeight":"bold","fontSize":58,"color":"black"},"encoding":{"x":{"datum":1.0812},"y":{"datum":-228.1}}}
 ]
}
]
}
